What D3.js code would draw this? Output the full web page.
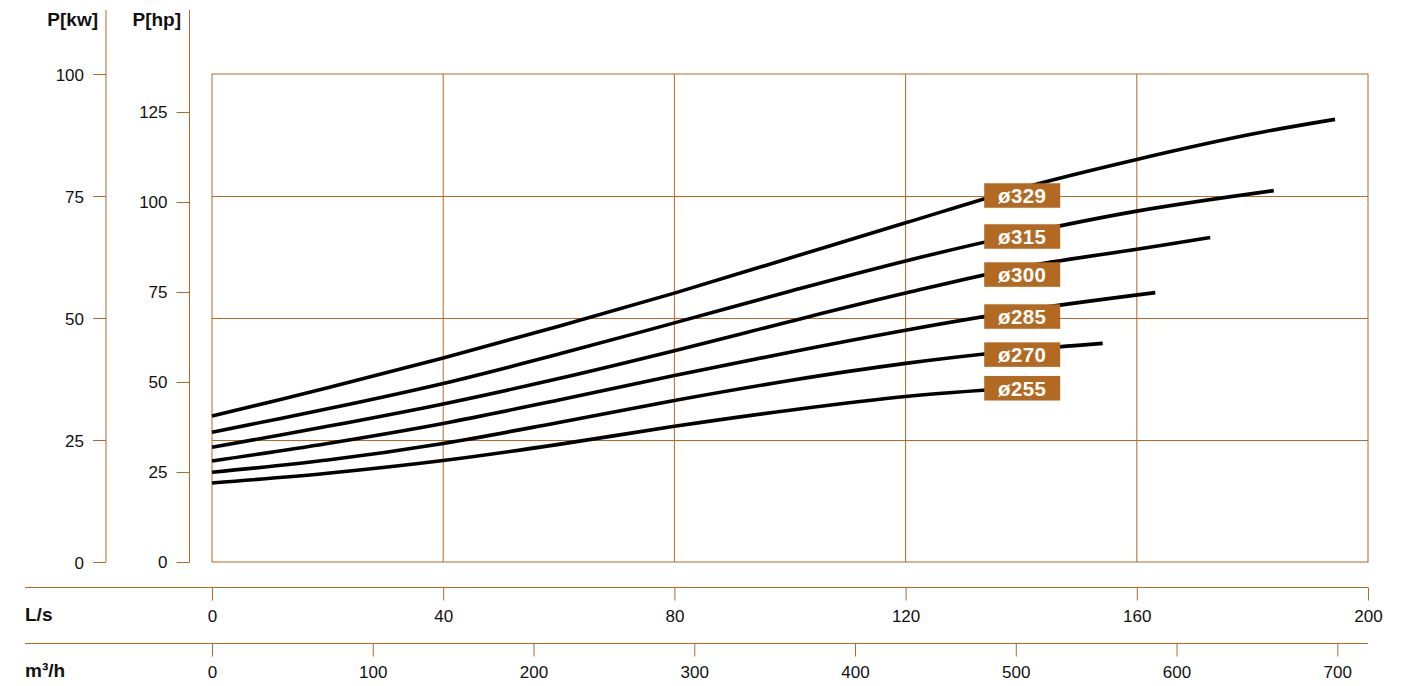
<!DOCTYPE html>
<html>
<head>
<meta charset="utf-8">
<script src="https://cdn.jsdelivr.net/npm/d3@7"></script>
<style>
  html, body { margin: 0; padding: 0; background: #fff; }
  svg { display: block; font-family: "Liberation Sans", Arial, Helvetica, sans-serif; }
</style>
</head>
<body>
<svg id="chart" width="1414" height="686"></svg>
<script>
// ---- data (x: flow in L/s, y: power in kW) ----
const flowTicksLs = [0, 40, 80, 120, 160, 200];
const flowTicksM3h = [0, 100, 200, 300, 400, 500, 600, 700];
const kwTicks = [0, 25, 50, 75, 100];
const hpTicks = [0, 25, 50, 75, 100, 125];
const gridLs = [40, 80, 120, 160];
const gridKw = [25, 50, 75];

const impellers = ["ø329", "ø315", "ø300", "ø285", "ø270", "ø255"];
const curve329 = [[0,29.9],[20,35.7],[40,41.8],[60,48.3],[80,55.1],[100,62.3],[120,69.5],[140,76.6],[160,82.5],[180,87.7],[194.3,90.7]];
const curve315 = [[0,26.6],[20,31.4],[40,36.6],[60,42.6],[80,49.0],[100,55.5],[120,61.7],[140,67.2],[160,71.9],[183.7,76.1]];
const curve300 = [[0,23.5],[20,27.8],[40,32.4],[60,37.6],[80,43.3],[100,49.3],[120,55.1],[140,60.4],[160,64.1],[172.7,66.5]];
const curve285 = [[0,20.7],[20,24.3],[40,28.4],[60,33.2],[80,38.2],[100,43.0],[120,47.5],[140,51.5],[163.2,55.2]];
const curve270 = [[0,18.4],[20,20.9],[40,24.3],[60,28.6],[80,33.1],[100,37.2],[120,40.7],[140,43.4],[154.1,44.8]];
const curve255 = [[0,16.2],[20,18.2],[40,20.8],[60,24.1],[80,27.8],[100,31.1],[120,33.9],[142,35.9]];
const curves = [curve329, curve315, curve300, curve285, curve270, curve255];
// label anchors: left edge in L/s, vertical centre in kW
const labelLs = 133.6;
const labelKw = [75.1, 66.7, 58.9, 50.3, 42.5, 35.6];

// ---- styles ----
const brown = "#b5692a";
const boxFill = "#b26a22";

const svg = d3.select("#chart");

const x = d3.scaleLinear().domain([0, 200]).range([212, 1368]);
const xm = d3.scaleLinear().domain([0, 700]).range([212, 1337.3]);
const y = d3.scaleLinear().domain([0, 100]).range([562, 74]);
const yhp = d3.scaleLinear().domain([0, 125]).range([562, 112]);

// grid
const grid = svg.append("g").attr("stroke", brown).attr("stroke-width", 1).attr("fill", "none");
grid.selectAll("line.v").data(gridLs).join("line")
  .attr("x1", d => x(d)).attr("x2", d => x(d)).attr("y1", y(100)).attr("y2", y(0));
grid.selectAll("line.h").data(gridKw).join("line")
  .attr("x1", x(0)).attr("x2", x(200)).attr("y1", d => y(d) + 0.5).attr("y2", d => y(d) + 0.5);
grid.append("rect").attr("x", x(0)).attr("y", y(100))
  .attr("width", x(200) - x(0)).attr("height", y(0) - y(100));

// left axes
function styleAxis(g) {
  g.select(".domain").remove();
  g.selectAll(".tick line").attr("stroke", brown);
  g.selectAll(".tick text").attr("fill", "#111").style("font-size", "17px")
    .style("font-family", '"Liberation Sans", Arial, Helvetica, sans-serif');
}
const gkw = svg.append("g").attr("transform", "translate(106,0)")
  .call(d3.axisLeft(y).tickValues(kwTicks).tickSize(13).tickPadding(9).tickFormat(d3.format("d")));
styleAxis(gkw);
gkw.selectAll(".tick text").attr("dy", "0.36em");
svg.append("line").attr("x1", 106).attr("x2", 106).attr("y1", 10).attr("y2", 562).attr("stroke", brown);

const ghp = svg.append("g").attr("transform", "translate(189.5,0)")
  .call(d3.axisLeft(yhp).tickValues(hpTicks).tickSize(13).tickPadding(9).tickFormat(d3.format("d")));
styleAxis(ghp);
svg.append("line").attr("x1", 189.5).attr("x2", 189.5).attr("y1", 10).attr("y2", 562).attr("stroke", brown);

svg.append("text").attr("x", 98).attr("y", 26).attr("text-anchor", "end")
  .style("font-weight", "bold").style("font-size", "19px").attr("fill", "#111").text("P[kw]");
svg.append("text").attr("x", 181).attr("y", 26).attr("text-anchor", "end")
  .style("font-weight", "bold").style("font-size", "19px").attr("fill", "#111").text("P[hp]");

// bottom axes
const gls = svg.append("g").attr("transform", "translate(0,587.5)")
  .call(d3.axisBottom(x).tickValues(flowTicksLs).tickSize(13).tickPadding(9).tickFormat(d3.format("d")));
styleAxis(gls);
svg.append("line").attr("x1", 25).attr("x2", 1368).attr("y1", 587.5).attr("y2", 587.5).attr("stroke", brown);

const gm = svg.append("g").attr("transform", "translate(0,643.5)")
  .call(d3.axisBottom(xm).tickValues(flowTicksM3h).tickSize(13).tickPadding(9).tickFormat(d3.format("d")));
styleAxis(gm);
svg.append("line").attr("x1", 25).attr("x2", 1368).attr("y1", 643.5).attr("y2", 643.5).attr("stroke", brown);

svg.append("text").attr("x", 25).attr("y", 621).style("font-weight", "bold")
  .style("font-size", "19px").attr("fill", "#111").text("L/s");
svg.append("text").attr("x", 25).attr("y", 677).style("font-weight", "bold")
  .style("font-size", "19px").attr("fill", "#111").text("m³/h");

// curves
const line = d3.line().x(d => x(d[0])).y(d => y(d[1])).curve(d3.curveCatmullRom.alpha(0.5));
svg.append("g").selectAll("path").data(curves).join("path")
  .attr("d", line).attr("fill", "none").attr("stroke", "#000")
  .attr("stroke-width", 3.6);

// labels
const boxW = 76, boxH = 24.5;
const lg = svg.append("g").selectAll("g").data(impellers).join("g")
  .attr("transform", (d, i) => `translate(${x(labelLs)},${y(labelKw[i]) - boxH / 2})`);
lg.append("rect").attr("width", boxW).attr("height", boxH).attr("fill", boxFill);
lg.append("text").attr("x", boxW / 2).attr("y", boxH / 2).attr("dy", "0.36em")
  .attr("text-anchor", "middle").attr("fill", "#fff")
  .style("font-weight", "bold").style("font-size", "20.5px").style("letter-spacing", "0.4px")
  .text(d => d);
</script>
</body>
</html>
